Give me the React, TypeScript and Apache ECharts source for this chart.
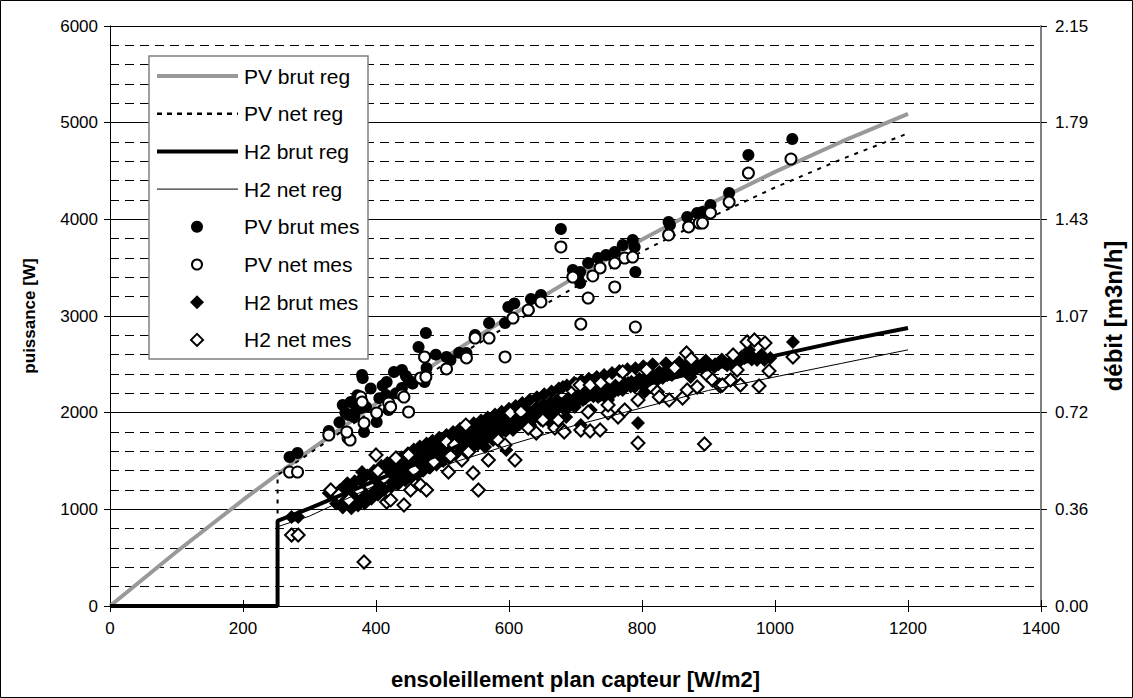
import React, { useEffect, useRef } from "react";
import * as echarts from "echarts";

// x: ensoleillement [W/m2], y: puissance [W]
const pvBrutReg = [[0,0],[100,561],[200,1097],[300,1608],[400,2094],[500,2556],[600,2993],[700,3405],[800,3791],[900,4154],[1000,4491],[1100,4803],[1200,5090]];
const pvNetReg = [[0,0],[252,0],[252,1355],[300,1579],[400,2046],[500,2489],[600,2907],[700,3300],[800,3667],[900,4011],[1000,4329],[1100,4622],[1200,4890]];
const h2BrutReg = [[0,0],[252,0],[252,880],[300,1010],[400,1300],[500,1580],[600,1910],[700,2100],[800,2280],[900,2450],[1000,2590],[1100,2740],[1200,2875]];
const h2NetReg = [[0,0],[252,0],[252,820],[300,930],[400,1250],[500,1450],[600,1665],[700,1870],[800,2050],[900,2230],[1000,2370],[1100,2510],[1200,2650]];

const pvBrutMes = [[270,1541],[282,1583],[329,1810],[362,2110],[359,1976],[367,1955],[371,2059],[377,2048],[382,1800],[379,2390],[380,2359],[354,2000],[366,2100],[345,1900],[350,2080],[368,2000],[372,2180],[385,2060],[392,2250],[401,1903],[405,2150],[410,2280],[415,2183],[416,2317],[419,2028],[427,2421],[430,2200],[439,2441],[439,2255],[445,2380],[449,2338],[455,2300],[464,2679],[475,2824],[476,2462],[473,2317],[490,2600],[506,2576],[512,2545],[525,2620],[536,2617],[549,2803],[570,2928],[594,2928],[599,3093],[608,3130],[633,3176],[648,3217],[678,3900],[696,3476],[707,3455],[707,3341],[719,3548],[734,3600],[746,3631],[759,3662],[771,3734],[786,3786],[789,3714],[790,3455],[840,3972],[842,3941],[868,4024],[883,4066],[891,4076],[903,4148],[931,4272],[960,4666],[1026,4831]];

const pvNetMes = [[270,1386],[282,1386],[329,1769],[358,1738],[361,1717],[356,1800],[377,2162],[379,2110],[382,1893],[401,1997],[419,2100],[422,2059],[439,2183],[442,2162],[449,2007],[467,2359],[473,2576],[475,2369],[506,2452],[536,2566],[549,2772],[570,2772],[594,2576],[606,2979],[629,3062],[648,3145],[678,3714],[696,3403],[719,3186],[726,3414],[737,3497],[759,3548],[759,3300],[774,3600],[786,3610],[708,2917],[790,2886],[840,3838],[870,3921],[886,3962],[891,3962],[903,4066],[931,4179],[960,4479],[1024,4624]];

const h2BrutMes = [[273,921],[283,921],[329,1169],[379,1386],[364,1200],[370,1128],[374,1169],[379,1097],[362,1066],[355,1252],[344,1097],[352,1148],[386,1200],[392,1252],[404,1303],[415,1335],[424,1438],[427,1303],[431,1407],[439,1407],[442,1479],[449,1438],[460,1510],[464,1376],[475,1593],[479,1438],[484,1510],[494,1562],[502,1614],[509,1541],[516,1634],[524,1614],[534,1645],[539,1665],[542,1686],[549,1717],[554,1790],[564,1645],[572,1769],[576,1717],[587,1852],[596,1614],[602,1955],[606,1820],[614,1893],[624,1924],[632,1872],[639,1955],[648,1924],[654,1997],[663,1893],[666,2007],[674,2048],[681,2266],[684,2028],[686,1955],[693,2079],[699,2059],[708,1872],[711,2131],[723,2028],[734,2162],[738,2183],[749,2131],[756,2203],[764,2235],[771,2235],[779,2307],[789,2266],[794,1893],[804,2214],[808,2317],[823,2338],[831,2359],[838,2390],[849,2421],[853,2421],[864,2472],[873,2369],[879,2441],[883,2255],[894,2441],[901,2483],[909,2472],[924,2514],[933,2524],[943,2514],[954,2566],[961,2648],[973,2545],[984,2545],[993,2566],[1027,2731],
[348,1120],[356,1180],[361,1140],[366,1230],[369,1090],[372,1150],[376,1210],[381,1260],[384,1130],[388,1290],[395,1230],[398,1350],[407,1270],[410,1380],[413,1330],[418,1420],[421,1300],[426,1360],[429,1460],[434,1390],[437,1350],[445,1440],[447,1500],[452,1390],[455,1470],[458,1550],[463,1450],[467,1520],[470,1600],[473,1480],[478,1560],[482,1640],[486,1580],[490,1520],[493,1660],[497,1600],[500,1700],[505,1580],[510,1660],[513,1720],[518,1680],[521,1760],[527,1700],[530,1780],[537,1740],[540,1820],[546,1760],[551,1840],[557,1790],[560,1870],[567,1820],[570,1900],[578,1860],[582,1930],[590,1880],[593,1960],[599,1900],[605,1980],[611,1940],[617,2000],[621,1950],[627,2030],[635,1980],[641,2050],[645,2000],[651,2080],[658,2030],[661,2100],[669,2060],[672,2130],[678,2090],[689,2150],[696,2110],[703,2180],[712,2140],[716,2200],[727,2170],[731,2230],[741,2200],[745,2250],[752,2220],[760,2280],[767,2250],[775,2300],[783,2270],[798,2300],[812,2340],[818,2380],[827,2400],[834,2420],[845,2390],[858,2450],[868,2440],[888,2480],[897,2460],[915,2500],[928,2490],[948,2540],[967,2570],[978,2580],
[340,1060],[346,1200],[350,1020],[357,1270],[363,1010],[368,1290],[373,1040],[378,1320],[383,1060],[387,1350],[393,1110],[397,1400],[403,1150],[408,1450],[412,1200],[417,1480],[423,1230],[428,1510],[433,1260],[438,1540],[444,1300],[448,1580],[453,1330],[457,1620],[462,1360],[466,1650],[471,1400],[476,1680],[481,1430],[485,1710],[491,1460],[495,1740],[501,1500],[506,1770],[511,1530],[516,1800],[522,1570],[526,1830],[532,1600],[536,1860],[543,1630],[547,1890],[553,1670],[558,1920],[563,1710],[568,1950],[574,1740],[579,1980],[585,1780],[589,2010],[595,1810],[600,2040],[606,1850],[610,2070],[616,1880],[620,2100],[626,1910],[631,2130],[637,1940],[642,2160],[648,1970],[653,2190],[659,2000],[664,2220],[670,2030],[675,2250],[681,2060],[687,2280],[692,2090],[698,2310],[704,2120],[709,2330],[715,2150],[720,2350],[726,2180],[732,2370],[738,2210],[743,2390],[750,2240],[755,2410],[761,2260],[766,2430],[772,2290],[778,2450],[784,2320],[790,2460],[796,2350],[802,2480],[810,2380],[816,2500],[826,2420],[836,2510],[846,2440],[856,2520],[866,2460],[876,2530],[886,2480],[896,2540],[910,2500],[920,2550],[935,2530],[950,2580],[965,2550],[980,2600]];

const h2NetMes = [[273,734],[283,734],[382,455],[332,1200],[344,1148],[359,1097],[374,1200],[389,1252],[400,1562],[401,1386],[403,1397],[412,1324],[416,1076],[422,1097],[430,1531],[442,1045],[449,1562],[452,1200],[457,1407],[467,1252],[476,1200],[487,1490],[506,1697],[509,1386],[512,1552],[518,1666],[529,1510],[535,1872],[539,1593],[546,1376],[554,1200],[569,1510],[584,1717],[594,1666],[602,1997],[609,1510],[618,2007],[629,1841],[641,1790],[651,1924],[669,1841],[674,1924],[681,1821],[683,1800],[701,2286],[707,2286],[708,1821],[719,2007],[722,2286],[722,1810],[737,1821],[738,2307],[749,1997],[749,2079],[764,1955],[771,2421],[774,2028],[794,1686],[794,2131],[807,2441],[823,2214],[826,2162],[841,2131],[849,2462],[861,2152],[867,2617],[868,2235],[874,2555],[883,2266],[894,1676],[898,2390],[906,2338],[916,2286],[918,2276],[921,2286],[933,2338],[937,2597],[943,2441],[948,2286],[958,2731],[969,2752],[976,2276],[985,2721],[991,2431],[1027,2576]];

const legendNames = ["PV brut reg", "PV net reg", "H2 brut reg", "H2 net reg", "PV brut mes", "PV net mes", "H2 brut mes", "H2 net mes"];

const xMax = 1400;
const yLeftMax = 6000;
const yRightMax = 2.15;

const FONT = "Liberation Sans, Arial, sans-serif";

function legendGraphic() {
  const left = 149, top = 56, w = 219, h = 303;
  const gap = 37.7, firstY = 76;
  const x0 = 157, x1 = 238, cx = 197, tx = 244;
  const children: any[] = [
    { type: "rect", z: 100, shape: { x: left, y: top, width: w, height: h }, style: { fill: "#fff", stroke: "#808080", lineWidth: 1.5 } },
  ];
  const lineStyles = [
    { stroke: "#999999", lineWidth: 4 },
    { stroke: "#000", lineWidth: 2.5, lineDash: [5, 5] },
    { stroke: "#000", lineWidth: 4 },
    { stroke: "#000", lineWidth: 1 },
  ];
  legendNames.forEach((name, i) => {
    const y = firstY + i * gap;
    if (i < 4) {
      children.push({ type: "line", z: 101, shape: { x1: x0, y1: y, x2: x1, y2: y }, style: lineStyles[i] });
    } else if (i === 4) {
      children.push({ type: "circle", z: 101, shape: { cx, cy: y, r: 6 }, style: { fill: "#000", stroke: "#000", lineWidth: 0 } });
    } else if (i === 5) {
      children.push({ type: "circle", z: 101, shape: { cx, cy: y, r: 5 }, style: { fill: "#fff", stroke: "#000", lineWidth: 2 } });
    } else {
      const filled = i === 6;
      const r = filled ? 7 : 6;
      children.push({
        type: "polygon",
        z: 101,
        shape: { points: [[cx, y - r], [cx + r, y], [cx, y + r], [cx - r, y]] },
        style: filled ? { fill: "#000", stroke: "#000", lineWidth: 0 } : { fill: "#fff", stroke: "#000", lineWidth: 2 },
      });
    }
    children.push({
      type: "text",
      z: 101,
      x: tx,
      y,
      style: { text: name, fill: "#000", font: `21px ${FONT}`, textAlign: "left", textVerticalAlign: "middle", verticalAlign: "middle" },
    });
  });
  return children;
}

export default function App() {
  const ref = useRef<HTMLDivElement>(null);
  useEffect(() => {
    document.body.style.margin = "0";
    const chart = echarts.init(ref.current!, null, { renderer: "svg" });
    const axisText = { color: "#000", fontSize: 17, fontFamily: FONT };
    const nameText = { color: "#000", fontWeight: "bold", fontFamily: FONT };
    chart.setOption({
      animation: false,
      backgroundColor: "#fff",
      textStyle: { fontFamily: FONT },
      grid: { left: 110, right: 87, top: 26, bottom: 92 },
      graphic: [
        {
          type: "rect",
          silent: true,
          z: 100,
          shape: { x: 0.5, y: 0.5, width: 1132, height: 697 },
          style: { fill: "none", stroke: "#000", lineWidth: 1 },
        },
        ...legendGraphic(),
      ],
      xAxis: [
        {
          type: "value",
          min: 0,
          max: xMax,
          interval: 200,
          name: "ensoleillement plan capteur [W/m2]",
          nameLocation: "middle",
          nameGap: 62,
          nameTextStyle: { ...nameText, fontSize: 22 },
          axisLine: { show: true, onZero: false, lineStyle: { color: "#000", width: 1 } },
          axisTick: { show: true, length: 6, lineStyle: { color: "#000" } },
          axisLabel: { ...axisText, margin: 14, formatter: (v: number) => String(v) },
          splitLine: { show: false },
        },
        {
          type: "value",
          position: "bottom",
          min: 0,
          max: xMax,
          interval: 200,
          axisLine: { show: false },
          axisTick: { show: true, inside: true, length: 6, lineStyle: { color: "#000" } },
          axisLabel: { show: false },
          splitLine: { show: false },
        },
      ],
      yAxis: [
        {
          type: "value",
          position: "left",
          min: 0,
          max: yLeftMax,
          interval: 1000,
          name: "puissance [W]",
          nameLocation: "middle",
          nameRotate: 90,
          nameGap: 72,
          nameTextStyle: { ...nameText, fontSize: 17 },
          axisLine: { show: true, onZero: false, lineStyle: { color: "#000", width: 1 } },
          axisTick: { show: true, length: 6, lineStyle: { color: "#000" } },
          axisLabel: { ...axisText, margin: 12, formatter: (v: number) => String(v) },
          splitLine: { show: true, lineStyle: { color: "#000", width: 1, type: "solid" } },
          minorTick: { show: false, splitNumber: 5 },
          minorSplitLine: { show: true, lineStyle: { color: "#000", width: 1, type: [9, 6] } },
        },
        {
          type: "value",
          position: "right",
          min: 0,
          max: yRightMax,
          interval: yRightMax / 6,
          name: "débit [m3n/h]",
          nameLocation: "middle",
          nameRotate: 90,
          nameGap: 60,
          nameTextStyle: { ...nameText, fontSize: 24 },
          axisLine: { show: true, onZero: false, lineStyle: { color: "#808080", width: 2 } },
          axisTick: { show: true, length: 6, lineStyle: { color: "#000" } },
          axisLabel: { ...axisText, margin: 14, formatter: (v: number) => v.toFixed(2) },
          splitLine: { show: false },
        },
      ],
      series: [
        { name: "PV brut reg", type: "line", data: pvBrutReg, symbol: "none", lineStyle: { color: "#999999", width: 4 }, z: 2 },
        { name: "PV net reg", type: "line", data: pvNetReg, symbol: "none", lineStyle: { color: "#000", width: 2, type: [4, 6] }, z: 2 },
        { name: "H2 brut reg", type: "line", data: h2BrutReg, symbol: "none", lineStyle: { color: "#000", width: 4 }, z: 4 },
        { name: "H2 net reg", type: "line", data: h2NetReg, symbol: "none", lineStyle: { color: "#000", width: 1 }, z: 4 },
        { name: "PV brut mes", type: "scatter", data: pvBrutMes, symbol: "circle", symbolSize: 12, itemStyle: { color: "#000", opacity: 1 }, z: 3 },
        { name: "PV net mes", type: "scatter", data: pvNetMes, symbol: "circle", symbolSize: 11, itemStyle: { color: "#fff", borderColor: "#000", borderWidth: 2, opacity: 1 }, z: 3 },
        { name: "H2 brut mes", type: "scatter", data: h2BrutMes, symbol: "diamond", symbolSize: 14, itemStyle: { color: "#000", opacity: 1 }, z: 3 },
        { name: "H2 net mes", type: "scatter", data: h2NetMes, symbol: "diamond", symbolSize: 13, itemStyle: { color: "#fff", borderColor: "#000", borderWidth: 2, opacity: 1 }, z: 3 },
      ],
    });
    return () => chart.dispose();
  }, []);
  return <div ref={ref} style={{ width: 1133, height: 698 }} />;
}
